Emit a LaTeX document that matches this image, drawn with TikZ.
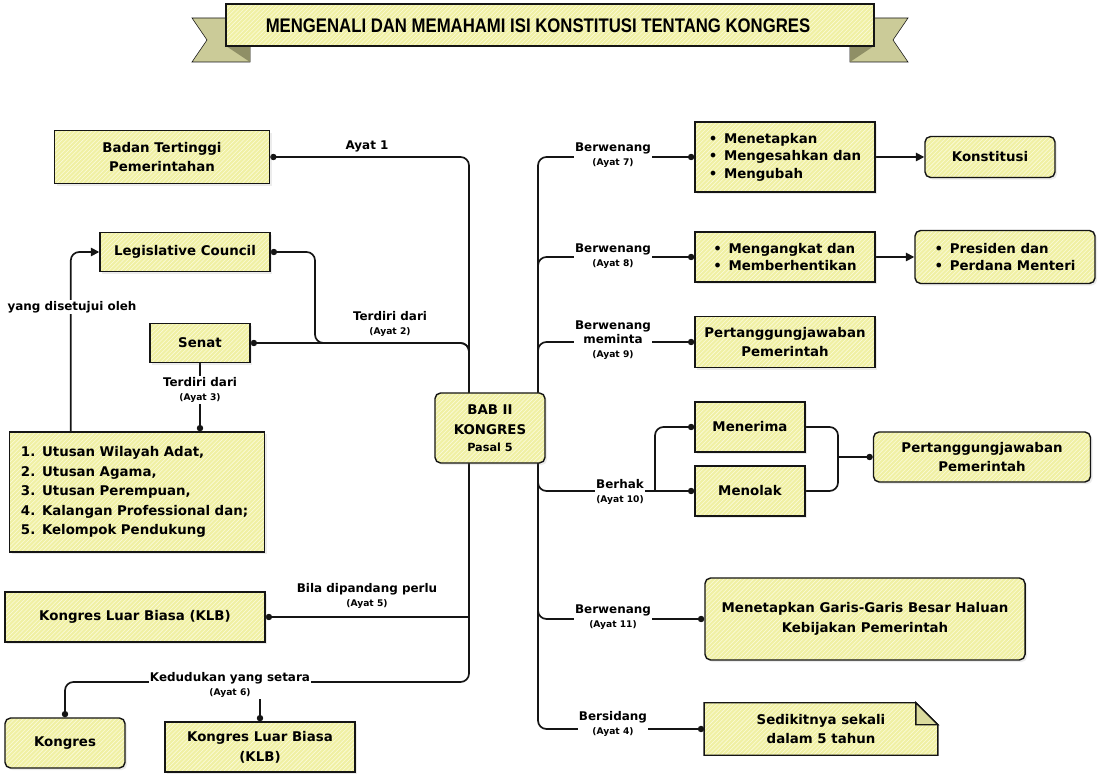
\documentclass[tikz,border=0pt]{standalone}
\usepackage{fontspec}
\setmainfont{DejaVu Sans}
\newfontfamily\titlefont[FakeStretch=0.85]{Liberation Sans}
\usetikzlibrary{patterns,arrows.meta,shadows,backgrounds}
\definecolor{ink}{HTML}{151515}
\definecolor{paper}{HTML}{F0F0A4}
\definecolor{hatch}{HTML}{FBFBDC}
\definecolor{ribbon}{HTML}{CBCB98}
\definecolor{fold}{HTML}{8F8F66}

\tikzset{
  box/.style={draw=ink, line width=1pt,
    drop shadow={opacity=0.15, shadow xshift=1.5pt, shadow yshift=-1.5pt},
    preaction={fill=paper},
    preaction={pattern=north east lines, pattern color=hatch},
    align=center, inner sep=3pt,
    font=\fontsize{9.5}{14}\selectfont\bfseries},
  rbox/.style={box, rounded corners=4pt},
  wire/.style={draw=ink, line width=1.2pt, rounded corners=6pt},
  tag/.style={fill=white, inner sep=1pt, align=center,
    font=\fontsize{8.5}{10}\selectfont\bfseries},
}
\newcommand{\ayat}[1]{{\fontsize{6.5}{8}\selectfont (Ayat #1)}}

\begin{document}
\begin{tikzpicture}[x=0.025cm, y=-0.025cm, >={Triangle[length=6pt,width=6pt]}]
  \useasboundingbox (0,0) rectangle (1101,780);

  % banner
  \filldraw[fill=ribbon, draw=ink] (192,18) -- (250,18) -- (250,62) -- (192,62) -- (207,40) -- cycle;
  \filldraw[fill=ribbon, draw=ink] (908,18) -- (850,18) -- (850,62) -- (908,62) -- (893,40) -- cycle;
  \fill[fold] (226,46) -- (250,46) -- (250,62) -- cycle;
  \fill[fold] (874,46) -- (850,46) -- (850,62) -- cycle;
  \path[draw=ink, line width=1pt, preaction={fill=paper},
    preaction={pattern=north east lines, pattern color=hatch}] (226,4) rectangle (874,46);
  \node (judul) at (538,26) {\titlefont\fontsize{14}{14}\selectfont\bfseries MENGENALI DAN MEMAHAMI ISI KONSTITUSI TENTANG KONGRES};

  % left side
  \node[box, minimum width=5.375cm, minimum height=1.325cm] (badan) at (162,157) {Badan Tertinggi\\Pemerintahan};
  \node[box, minimum width=4.25cm, minimum height=0.975cm] (legis) at (185,252) {Legislative Council};
  \node[box, minimum width=2.5cm, minimum height=0.975cm] (senat) at (200,343) {Senat};
  \node[box, minimum width=6.375cm, minimum height=3cm, text width=5.8cm, align=left,
    font=\fontsize{9.5}{13.8}\selectfont\bfseries] (utusan) at (137,492)
    {1. Utusan Wilayah Adat,\\2. Utusan Agama,\\3. Utusan Perempuan,\\4. Kalangan Professional dan;\\5. Kelompok Pendukung};
  \node[box, minimum width=6.5cm, minimum height=1.25cm] (klb) at (135,617) {Kongres Luar Biasa (KLB)};
  \node[rbox, minimum width=3cm, minimum height=1.25cm] (kongres) at (65,743) {Kongres};
  \node[box, minimum width=4.75cm, minimum height=1.25cm] (klbdua) at (260,747) {Kongres Luar Biasa\\(KLB)};

  % centre
  \node[rbox, minimum width=2.75cm, minimum height=1.75cm] (bab) at (490,428)
    {BAB II\\KONGRES\\[-2pt]{\fontsize{8}{10}\selectfont Pasal 5}};
  \coordinate (kanan) at (538,428);

  % right side
  \node[box, minimum width=4.5cm, minimum height=1.75cm, align=left] (tetap) at (785,157)
    {\textbullet\enspace Menetapkan\\[-1.5pt]\textbullet\enspace Mengesahkan dan\\[-1.5pt]\textbullet\enspace Mengubah};
  \node[rbox, minimum width=3.25cm, minimum height=1.025cm] (konst) at (990,157) {Konstitusi};
  \node[box, minimum width=4.5cm, minimum height=1.25cm, align=left] (angkat) at (785,257)
    {\textbullet\enspace Mengangkat dan\\[-1.5pt]\textbullet\enspace Memberhentikan};
  \node[rbox, minimum width=4.5cm, minimum height=1.325cm, align=left] (presiden) at (1005,257)
    {\textbullet\enspace Presiden dan\\[-1.5pt]\textbullet\enspace Perdana Menteri};
  \node[box, minimum width=4.5cm, minimum height=1.275cm] (tanggung) at (785,342) {Pertanggungjawaban\\Pemerintah};
  \node[box, minimum width=2.75cm, minimum height=1.25cm] (terima) at (750,427) {Menerima};
  \node[box, minimum width=2.75cm, minimum height=1.25cm] (tolak) at (750,491) {Menolak};
  \node[rbox, minimum width=5.425cm, minimum height=1.25cm] (tanggungdua) at (982,457) {Pertanggungjawaban\\Pemerintah};
  \node[rbox, minimum width=8cm, minimum height=2.05cm] (gbhk) at (865,619)
    {Menetapkan Garis-Garis Besar Haluan\\Kebijakan Pemerintah};
  \node[minimum width=5.825cm, minimum height=1.3cm, align=center,
    font=\fontsize{9.5}{14}\selectfont\bfseries] (catatan) at (821,729) {Sedikitnya sekali\\dalam 5 tahun};

  \begin{scope}[on background layer]
    \path[draw=ink, line width=1pt, preaction={fill=paper},
      preaction={pattern=north east lines, pattern color=hatch}]
      (catatan.south west) -- (catatan.north west) -- ([xshift=-0.55cm]catatan.north east)
      -- ([yshift=-0.55cm]catatan.north east) -- (catatan.south east) -- cycle;
    \filldraw[draw=ink, line width=1pt, fill=ribbon!60!paper]
      ([xshift=-0.55cm]catatan.north east) -- ([xshift=-0.55cm,yshift=-0.55cm]catatan.north east)
      -- ([yshift=-0.55cm]catatan.north east) -- cycle;

    % connectors, left
    \draw[wire, {Circle[length=4.5pt]}-{Circle[length=4.5pt]}] (badan.east) -| (469,682) -| (kongres.north);
    \draw[wire, {Circle[length=4.5pt]}-] (legis.east) -| (315,343) -- (469,343) -- (469,380);
    \draw[wire, {Circle[length=4.5pt]}-] (senat.east) -- (469,343) -- (469,380);
    \draw[wire, -{Circle[length=4.5pt]}] (senat.south) -- (senat.south |- utusan.north);
    \draw[wire, ->] ([xshift=1.55cm]utusan.north west) |- (legis.west);
    \draw[wire, {Circle[length=4.5pt]}-] (klb.east) -- (klb.east -| 469,0);
    \draw[wire, {Circle[length=4.5pt]}-] (klbdua.north) -- (klbdua.north |- 0,682);

    % connectors, right
    \draw[wire, -{Circle[length=4.5pt]}] (kanan) |- (tetap.west);
    \draw[wire, -{Circle[length=4.5pt]}] (kanan) |- (angkat.west);
    \draw[wire, -{Circle[length=4.5pt]}] (kanan) |- (tanggung.west);
    \draw[wire, -{Circle[length=4.5pt]}] (kanan) |- (tolak.west);
    \draw[wire, -{Circle[length=4.5pt]}] (655,491) |- (terima.west);
    \draw[wire, -{Circle[length=4.5pt]}] (kanan) |- (gbhk.west);
    \draw[wire, -{Circle[length=4.5pt]}] (kanan) |- (catatan.west);
    \draw[wire, ->] (tetap.east) -- (konst.west);
    \draw[wire, ->] (angkat.east) -- (presiden.west);
    \draw[wire] (terima.east) -| (838,457);
    \draw[wire] (tolak.east) -| (838,457);
    \draw[wire, -{Circle[length=4.5pt]}] (838,457) -- (tanggungdua.west);
  \end{scope}

  % labels
  \node[tag] (la1) at (367,146) {Ayat 1};
  \node[tag] (la2) at (390,324) {Terdiri dari\\\ayat{2}};
  \node[tag] (la3) at (200,390) {Terdiri dari\\\ayat{3}};
  \node[tag] (lsetuju) at (72,307) {yang disetujui oleh};
  \node[tag] (la5) at (367,596) {Bila dipandang perlu\\\ayat{5}};
  \node[tag] (la6) at (230,685) {Kedudukan yang setara\\\ayat{6}};
  \node[tag] (la7) at (613,155) {Berwenang\\\ayat{7}};
  \node[tag] (la8) at (613,256) {Berwenang\\\ayat{8}};
  \node[tag] (la9) at (613,340) {Berwenang\\meminta\\\ayat{9}};
  \node[tag] (la10) at (620,492) {Berhak\\\ayat{10}};
  \node[tag] (la11) at (613,617) {Berwenang\\\ayat{11}};
  \node[tag] (la4) at (613,724) {Bersidang\\\ayat{4}};
\end{tikzpicture}
\end{document}
